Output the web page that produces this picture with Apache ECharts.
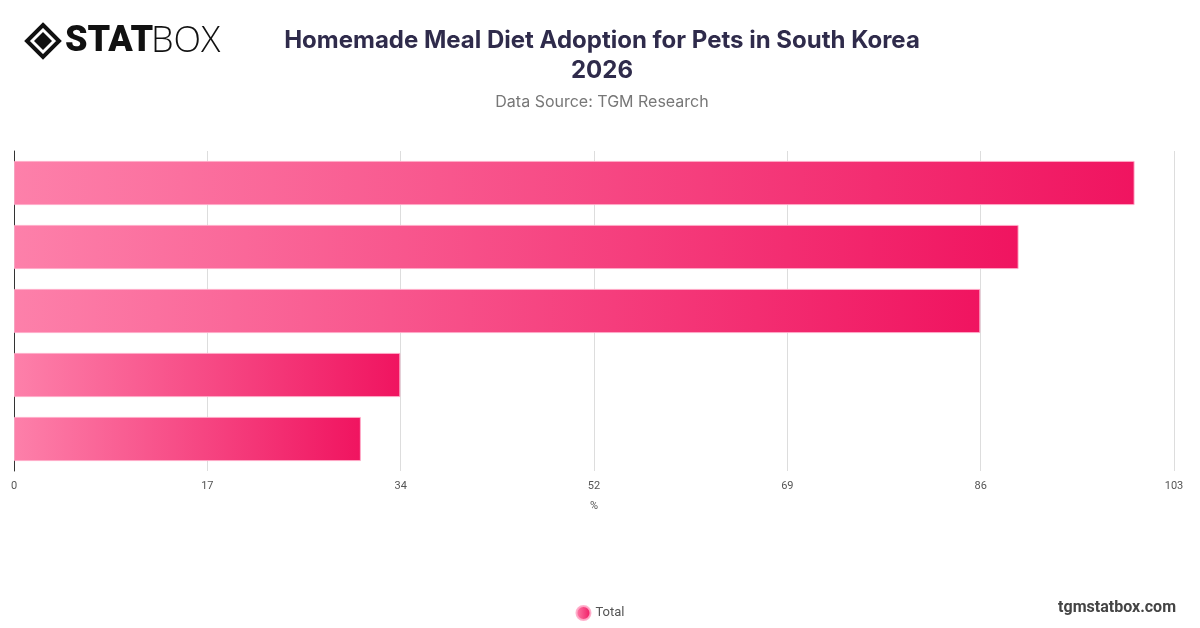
<!DOCTYPE html>
<html>
<head>
<meta charset="utf-8">
<script src="https://cdn.jsdelivr.net/npm/echarts@6/dist/echarts.min.js"></script>
<style>
html,body{margin:0;padding:0;background:#fff;}
#chart{width:1200px;height:628px;}
</style>
</head>
<body>
<div id="chart"></div>
<script>
const titleText = "Homemade Meal Diet Adoption for Pets in South Korea\n2026";
const subtitleText = "Data Source: TGM Research";
const categories = ["Dogs", "Cats", "Small Mammals", "Birds", "Other Pets"];
const totalValues = [99.5, 89.2, 85.8, 34.3, 30.8];
const seriesName = "Total";
const axisMax = 103;
const axisSplits = 6;
const axisName = "%";

const chart = echarts.init(document.getElementById('chart'), null, {renderer: 'canvas'});
const grad = new echarts.graphic.LinearGradient(0, 0, 1, 0, [
  {offset: 0, color: '#fd80aa'},
  {offset: 1, color: '#f01460'}
]);
chart.setOption({
  backgroundColor: '#ffffff',
  animation: false,
  title: {
    text: titleText,
    subtext: subtitleText,
    left: 597,
    textAlign: 'center',
    top: 21,
    itemGap: 8,
    textStyle: {fontFamily: 'Inter', fontWeight: 700, fontSize: 24, color: '#2f2b4b', lineHeight: 30},
    subtextStyle: {fontFamily: 'Inter', fontSize: 16, color: '#777777'}
  },
  legend: {
    bottom: 2,
    left: 'center',
    icon: 'circle',
    itemWidth: 14,
    itemHeight: 14,
    itemGap: 10,
    textStyle: {fontFamily: 'Roboto', fontSize: 13, color: '#555'},
    data: [seriesName]
  },
  grid: {left: 14, right: 26, top: 151, bottom: 157, containLabel: false},
  xAxis: {
    type: 'value',
    min: 0,
    max: axisMax,
    interval: axisMax / axisSplits,
    name: axisName,
    nameLocation: 'middle',
    nameGap: 30,
    nameTextStyle: {fontFamily: 'Roboto', fontSize: 11, color: '#555'},
    axisLine: {show: false},
    axisTick: {show: false},
    axisLabel: {fontFamily: 'Roboto', fontSize: 11, color: '#555', margin: 10,
      formatter: v => String(Math.round(v + 1e-9))},
    splitLine: {show: true, lineStyle: {color: '#dddddd', width: 1}}
  },
  yAxis: {
    type: 'category',
    data: categories,
    inverse: true,
    axisLine: {show: true, lineStyle: {color: '#333', width: 1}},
    axisTick: {show: false},
    axisLabel: {show: false},
    splitLine: {show: false}
  },
  series: [{
    name: seriesName,
    type: 'bar',
    data: totalValues,
    barCategoryGap: '31%',
    itemStyle: {color: grad, borderColor: 'rgba(255,170,200,0.9)', borderWidth: 1}
  }],
  graphic: [
    {type: 'polygon', shape: {points: [[43,25],[59,41],[43,57],[27,41]]},
     style: {fill: 'none', stroke: '#111', lineWidth: 4}},
    {type: 'polygon', shape: {points: [[43,32],[52,41],[43,50],[34,41]]},
     style: {fill: '#111'}},
    {type: 'text', left: 65, top: 24,
     style: {text: 'STAT', font: '900 36px Roboto', fill: '#111'}},
    {type: 'text', left: 151, top: 24,
     style: {text: 'BOX', font: '300 36px "Open Sans"', fill: '#111'}},
    {type: 'text', right: 24, bottom: 12,
     style: {text: 'tgmstatbox.com', font: '700 16px Roboto', fill: '#444'}}
  ]
});
</script>
</body>
</html>
